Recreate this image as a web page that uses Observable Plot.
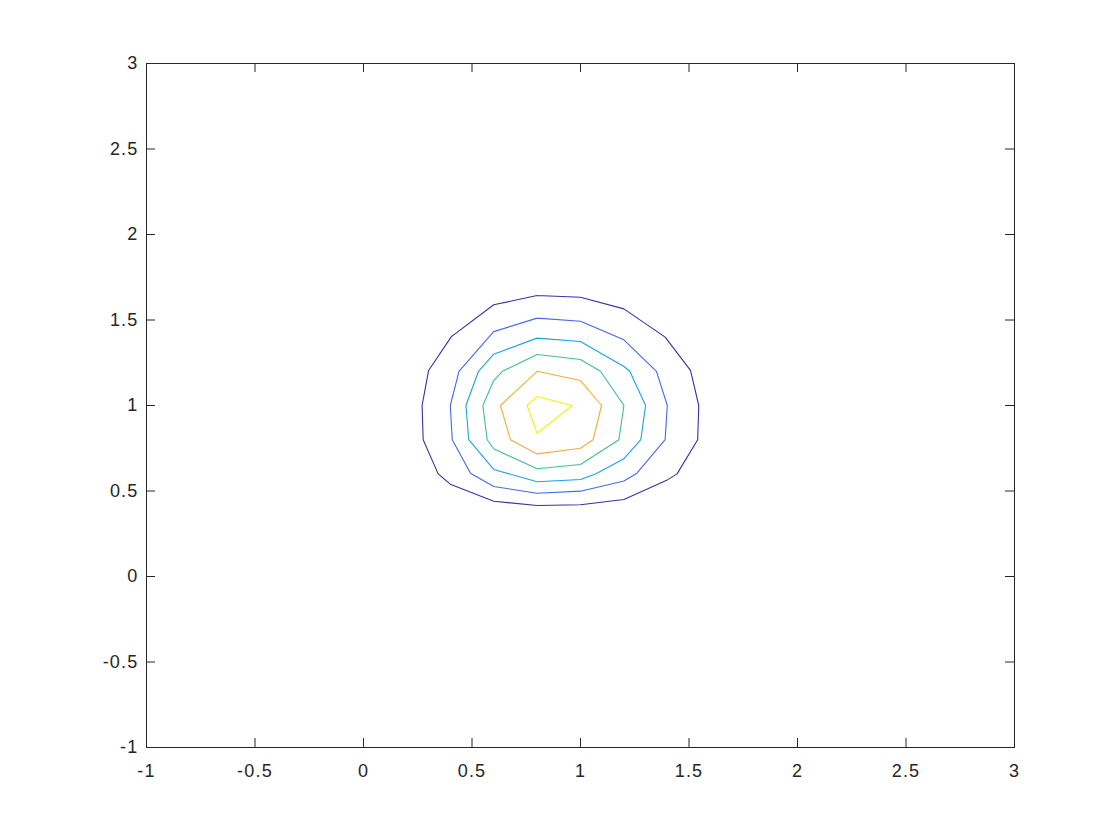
<!DOCTYPE html>
<html>
<head>
<meta charset="utf-8">
<script src="https://cdn.jsdelivr.net/npm/d3@7"></script>
<script src="https://cdn.jsdelivr.net/npm/@observablehq/plot@0.6"></script>
<style>
  html, body { margin: 0; padding: 0; background: #fff; }
  #chart { width: 1120px; height: 840px; }
</style>
</head>
<body>
<div id="chart"></div>
<script>
// Tick values
const xTicks = [-1, -0.5, 0, 0.5, 1, 1.5, 2, 2.5, 3];
const yTicks = [-1, -0.5, 0, 0.5, 1, 1.5, 2, 2.5, 3];

// Contour levels (outer to inner) and their colours
const levels = [1, 2, 3, 4, 5, 6];
const levelColors = ["#3F2DA8", "#4668F0", "#1CA3DC", "#3FC08C", "#ECB038", "#F5F20E"];

// Contour vertices [x, y]
const contour1 = [[0.8,1.643],[1.0,1.633],[1.2,1.565],[1.39,1.40],[1.507,1.205],[1.545,1.0],[1.54,0.8],[1.445,0.6],[1.40,0.565],[1.2,0.45],[1.0,0.42],[0.8,0.415],[0.6,0.44],[0.40,0.54],[0.344,0.6],[0.275,0.8],[0.27,1.0],[0.30,1.205],[0.405,1.403],[0.6,1.589]];
const contour2 = [[0.8,1.511],[1.0,1.493],[1.2,1.384],[1.35,1.2],[1.4,1.0],[1.39,0.8],[1.26,0.604],[1.2,0.559],[1.0,0.499],[0.8,0.487],[0.6,0.526],[0.493,0.604],[0.409,0.8],[0.40,1.0],[0.44,1.2],[0.6,1.432]];
const contour3 = [[0.8,1.394],[1.0,1.374],[1.2,1.228],[1.227,1.2],[1.3,1.0],[1.278,0.8],[1.2,0.688],[1.069,0.6],[1.0,0.567],[0.8,0.554],[0.6,0.626],[0.485,0.8],[0.472,1.0],[0.53,1.2],[0.6,1.300]];
const contour4 = [[0.8,1.298],[1.0,1.269],[1.092,1.2],[1.2,1.0],[1.177,0.8],[1.0,0.655],[0.8,0.63],[0.6,0.747],[0.57,0.8],[0.55,1.0],[0.6,1.146],[0.64,1.2]];
const contour5 = [[0.8,1.2],[1.0,1.146],[1.097,1.0],[1.058,0.8],[1.0,0.75],[0.8,0.717],[0.677,0.8],[0.631,1.0]];
const contour6 = [[0.8,1.053],[0.962,1.0],[0.8,0.838],[0.754,1.0]];

const contours = [contour1, contour2, contour3, contour4, contour5, contour6];

// Build a table of closed polylines
const rows = [];
contours.forEach((pts, i) => {
  const closed = pts.concat([pts[0]]);
  closed.forEach(([x, y]) => rows.push({level: levels[i], x, y}));
});

const W = 1120, H = 840;
const mL = 146, mR = 106, mT = 63, mB = 93;
const plotW = W - mL - mR, plotH = H - mT - mB;
const tickLen = 9;
const axisColor = "#262626";
const fontFamily = "'Liberation Sans', Arial, Helvetica, sans-serif";
const fs = 18;

const chart = Plot.plot({
  width: W,
  height: H,
  marginLeft: mL,
  marginRight: mR,
  marginTop: mT,
  marginBottom: mB,
  style: {fontFamily, fontSize: fs + "px", color: axisColor, background: "#fff"},
  x: {domain: [-1, 3], ticks: xTicks, label: null},
  y: {domain: [-1, 3], ticks: yTicks, label: null},
  color: {type: "ordinal", domain: levels, range: levelColors},
  marks: [
    Plot.axisX(xTicks, {anchor: "bottom", tickSize: 0, tickPadding: 17, fill: axisColor, fontSize: fs, tickFormat: d => String(d), label: null}),
    Plot.axisY(yTicks, {anchor: "left", tickSize: 0, tickPadding: 8, fill: axisColor, fontSize: fs, tickFormat: d => String(d), label: null}),
    // inward ticks on all four sides
    Plot.tickX(xTicks, {x: d => d, insetTop: plotH - tickLen, stroke: axisColor, strokeWidth: 1}),
    Plot.tickX(xTicks, {x: d => d, insetBottom: plotH - tickLen, stroke: axisColor, strokeWidth: 1}),
    Plot.tickY(yTicks, {y: d => d, insetRight: plotW - tickLen, stroke: axisColor, strokeWidth: 1}),
    Plot.tickY(yTicks, {y: d => d, insetLeft: plotW - tickLen, stroke: axisColor, strokeWidth: 1}),
    Plot.line(rows, {x: "x", y: "y", z: "level", stroke: "level", strokeWidth: 1.1, curve: "linear"}),
    Plot.frame({stroke: axisColor, strokeWidth: 1})
  ]
});

d3.select(chart).selectAll("text")
  .attr("font-size", fs)
  .style("font-size", fs + "px")
  .style("letter-spacing", "1.2px")
  .style("font-family", fontFamily);

document.getElementById("chart").appendChild(chart);
</script>
</body>
</html>
